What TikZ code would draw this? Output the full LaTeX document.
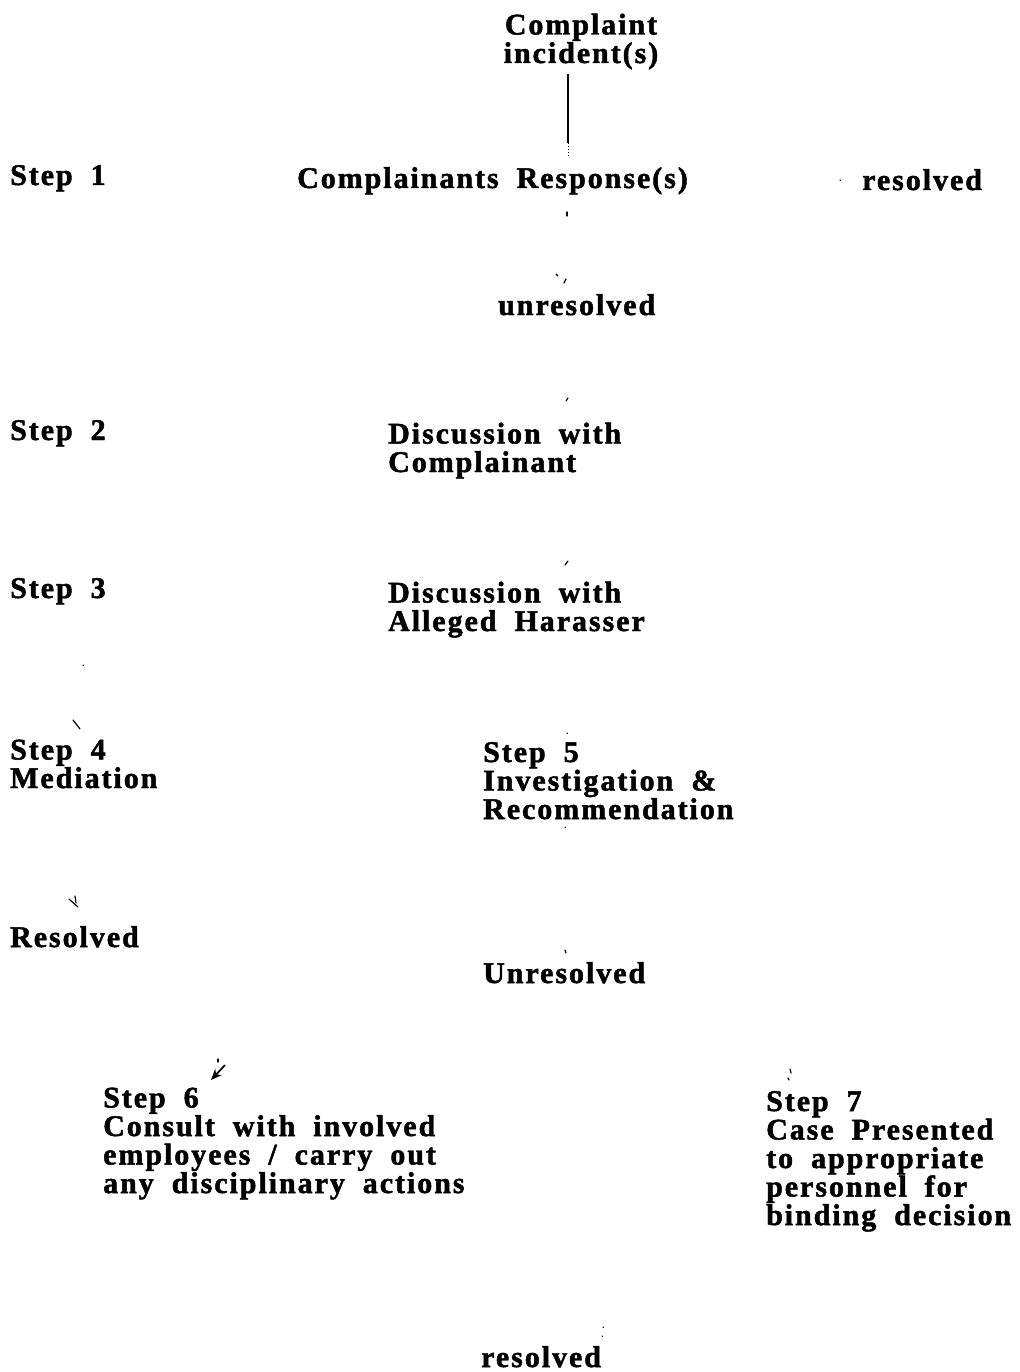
\documentclass[tikz,border=0pt]{standalone}
\usepackage{fontspec}
\setmainfont{Liberation Serif}[LetterSpace=6.5,WordSpace=1.9,FakeBold=1.6]
\usetikzlibrary{arrows.meta}
\begin{document}
\begin{tikzpicture}[x=1pt,y=1pt,
  lbl/.style={anchor=base west,inner sep=0pt,align=left,
    font=\bfseries\fontsize{30}{28.5}\selectfont},
  speck/.style={line width=1.2pt,line cap=round}]
\useasboundingbox (0,0) rectangle (1019,-1372);
% header (base anchor of a multi-line node = baseline of its last line)
\node[lbl,align=center,anchor=base] (inc) at (581,-63) {Complaint\\incident(s)};
\coordinate (tip) at (568,-157);
\draw[line width=1.3pt] (inc.south -| tip) ++(0,-4) -- ([yshift=14pt]tip);
\draw[line width=1pt,dotted] ([yshift=14pt]tip) -- (tip);
% step 1
\node[lbl] (s1) at (10,-185) {Step 1};
\node[lbl] (resp) at (297,-188) {Complainants Response(s)};
\node[lbl] (res1) at (862,-190) {resolved};
\node[lbl] (unres1) at (498,-315) {unresolved};
% step 2, 3
\node[lbl] (s2) at (10,-440) {Step 2};
\node[lbl] (d1) at (388,-472) {Discussion with\\Complainant};
\node[lbl] (s3) at (10,-598) {Step 3};
\node[lbl] (d2) at (388,-631) {Discussion with\\Alleged Harasser};
% step 4, 5
\node[lbl] (s4) at (10,-788) {Step 4\\Mediation};
\node[lbl] (s5) at (483,-819) {Step 5\\Investigation \&\\Recommendation};
\node[lbl] (res2) at (10,-947) {Resolved};
\node[lbl] (unres2) at (483,-983) {Unresolved};
% step 6, 7
\node[lbl] (s6) at (103,-1193) {Step 6\\Consult with involved\\employees / carry out\\any disciplinary actions};
\node[lbl] (s7) at (766,-1225) {Step 7\\Case Presented\\to appropriate\\personnel for\\binding decision};
\node[lbl] (res3) at (481,-1367) {resolved};
% faded arrow remnants
\coordinate (a6) at (225,-1065);
\draw[line width=1.8pt,-{Stealth[length=11pt,width=9pt]}] (a6) -- (211,-1080);
\draw[speck] (218,-1059) -- (218,-1062);
\draw[speck] (567,-212) -- (567,-216);
\draw[speck] (556,-274) -- (558,-276);
\draw[speck] (566,-279) -- (564,-283);
\draw[speck] (566,-401) -- (568,-398);
\draw[speck] (565,-565) -- (568,-561);
\draw[speck] (83,-665) -- (83.5,-665.5);
\draw[speck] (73,-720) -- (80,-729);
\draw[speck] (69,-899) -- (78,-907);
\draw[speck] (75,-896) -- (76,-903);
\draw[speck] (565,-950) -- (566,-953);
\draw[speck] (567,-733) -- (567.5,-733.5);
\draw[speck] (565,-827) -- (565.5,-827.5);
\draw[speck] (790,-1069) -- (791,-1073);
\draw[speck] (788,-1078) -- (789,-1080);
\draw[speck] (840,-180) -- (840.5,-180.5);
\draw[speck] (603,-1327) -- (603.5,-1327.5);
\draw[speck] (602,-1336) -- (602.5,-1336.5);
\end{tikzpicture}
\end{document}
